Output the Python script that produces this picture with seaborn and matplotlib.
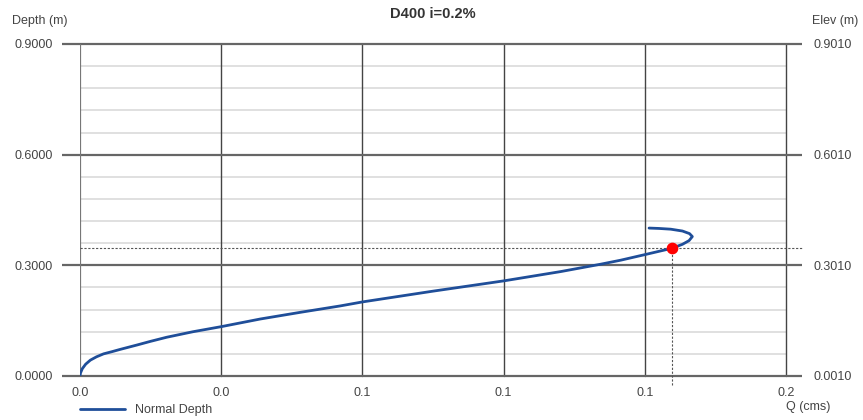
import numpy as np
import pandas as pd
import matplotlib.pyplot as plt
import seaborn as sns

# rating curve of the pipe
flow = [0.0, 0.0001, 0.0005, 0.0012, 0.0022, 0.0035, 0.0050, 0.0068, 0.0085,
        0.0121, 0.0150, 0.0184, 0.0240, 0.0301, 0.0383, 0.0470, 0.0553,
        0.0601, 0.0750, 0.0901, 0.1021, 0.1106, 0.1149, 0.1200, 0.1257,
        0.1280, 0.1294, 0.1301, 0.1295, 0.1280, 0.1255, 0.1230, 0.1209]
depth = [0.0, 0.008, 0.020, 0.032, 0.043, 0.052, 0.060, 0.066, 0.072,
         0.084, 0.094, 0.105, 0.120, 0.134, 0.1545, 0.173, 0.190,
         0.201, 0.230, 0.258, 0.283, 0.303, 0.314, 0.329, 0.346,
         0.357, 0.367, 0.378, 0.386, 0.393, 0.398, 0.400, 0.401]

normal_q = 0.1257
normal_d = 0.346

x_ticks = [0.0, 0.03, 0.06, 0.09, 0.12, 0.15]
x_labels = ['0.0', '0.0', '0.1', '0.1', '0.1', '0.2']
y_major = [0.0, 0.3, 0.6, 0.9]
y_minor = [0.06, 0.12, 0.18, 0.24, 0.36, 0.42, 0.48, 0.54, 0.66, 0.72, 0.78, 0.84]
elev_offset = 0.001

df = pd.DataFrame({'Q': flow, 'Depth': depth})

sns.set_style('white')
plt.rcParams['font.family'] = ['Liberation Sans', 'DejaVu Sans']

fig = plt.figure(figsize=(8.63, 4.2), dpi=100)
ax = fig.add_axes([80 / 863, 44 / 420, 706 / 863, 332 / 420])

for y in y_minor:
    ax.axhline(y, color='#dddddd', lw=1.3, zorder=1)
for x in x_ticks[1:]:
    ax.axvline(x, color='#444444', lw=1.0, zorder=1, clip_on=False)
for y in y_major:
    ax.plot([-0.0038, 0.1534], [y, y], color='#666666', lw=1.6, zorder=2,
            clip_on=False, solid_capstyle='butt')
ax.plot([0, 0], [0, 0.9], color='#777777', lw=1.6, zorder=2)

# normal depth guide lines
ax.plot([0, 0.1534], [normal_d, normal_d], color='#555555', lw=0.8,
        ls=(0, (2, 1.5)), clip_on=False, zorder=2)
ax.plot([normal_q, normal_q], [-0.025, normal_d], color='#555555', lw=0.8,
        ls=(0, (2, 1.5)), clip_on=False, zorder=2)

sns.lineplot(data=df, x='Q', y='Depth', sort=False, estimator=None, ax=ax,
             color='#1F4E99', lw=2, zorder=4, label='Normal Depth')
ax.scatter([normal_q], [normal_d], s=55, color='#ff0000', zorder=5)

ax.set_xlim(0, 0.15)
ax.set_ylim(0, 0.9)
for s in ax.spines.values():
    s.set_visible(False)
ax.set_xticks(x_ticks)
ax.set_xticklabels(x_labels)
ax.set_yticks(y_major)
ax.set_yticklabels([f'{v:.4f}' for v in y_major])
ax.tick_params(axis='both', length=0, labelsize=9, labelcolor='#444444')
ax.tick_params(axis='y', pad=19.5)
ax.tick_params(axis='x', pad=8)
ax.set_xlabel('')
ax.set_ylabel('')

ax2 = ax.twinx()
ax2.set_ylim(0, 0.9)
ax2.set_yticks(y_major)
ax2.set_yticklabels([f'{v + elev_offset:.4f}' for v in y_major])
ax2.tick_params(axis='y', length=0, labelsize=9, labelcolor='#444444', pad=19.5)
for s in ax2.spines.values():
    s.set_visible(False)

fig.text(433 / 863, 1 - 14 / 420, 'D400 i=0.2%', ha='center', va='center',
         fontsize=10.5, fontweight='bold', color='#333333')
fig.text(12 / 863, 1 - 21 / 420, 'Depth (m)', ha='left', va='center',
         fontsize=9, color='#444444')
fig.text(812 / 863, 1 - 21 / 420, 'Elev (m)', ha='left', va='center',
         fontsize=9, color='#444444')
fig.text(786 / 863, 1 - 407 / 420, 'Q (cms)', ha='left', va='center',
         fontsize=9, color='#444444')

ax.legend(loc='upper left', bbox_to_anchor=(0, -0.085), frameon=False,
          fontsize=9, handlelength=3.6, borderaxespad=0, borderpad=0,
          labelcolor='#444444', handletextpad=0.8)

fig.savefig('out.png', dpi=100)
